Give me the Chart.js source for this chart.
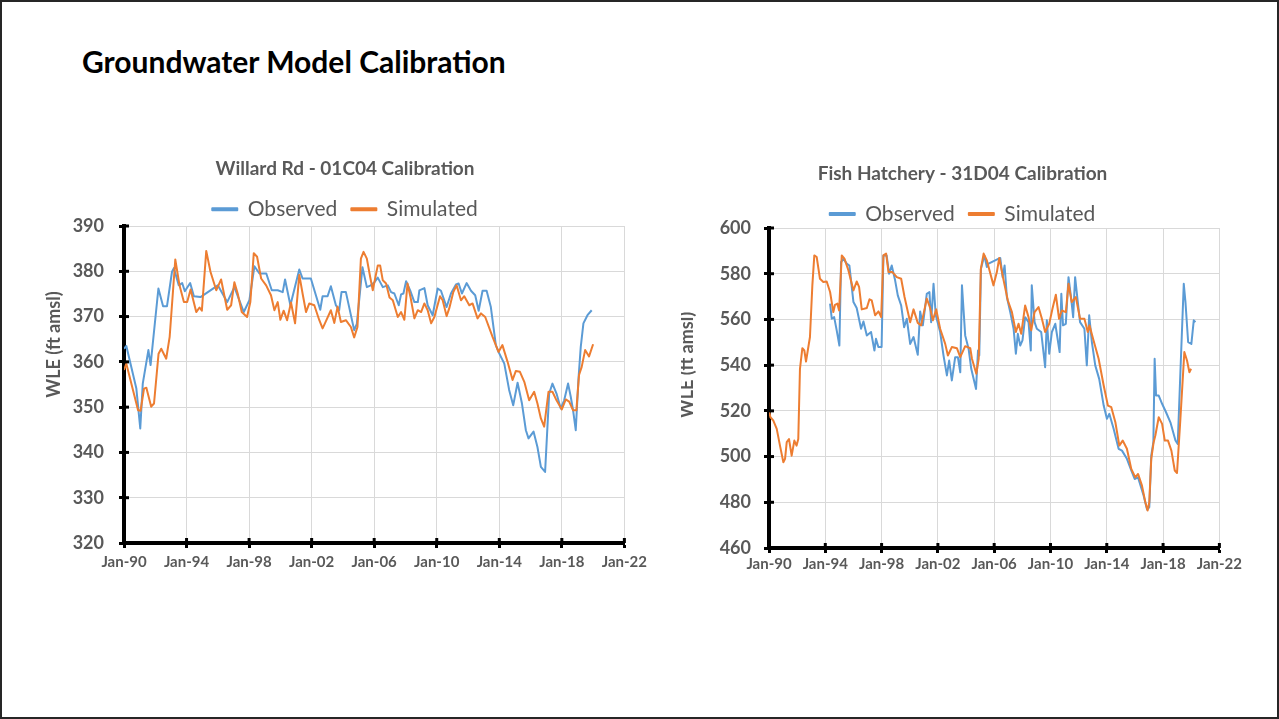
<!DOCTYPE html>
<html>
<head>
<meta charset="utf-8">
<script src="https://cdn.jsdelivr.net/npm/chart.js@4.4.1/dist/chart.umd.min.js"></script>
<style>
  html, body { margin: 0; padding: 0; background: #fff; }
  #slide { position: relative; width: 1279px; height: 719px; box-sizing: border-box; border: 2px solid #262626; overflow: hidden; }
  h1 { position: absolute; left: 80px; top: 41px; margin: 0; font: bold 30px Lato, sans-serif; color: #000; white-space: nowrap; }
  .box { position: absolute; }
</style>
</head>
<body>
<div id="slide">
  <h1>Groundwater Model Calibration</h1>
  <div class="box" style="left:36px; top:143px; width:614px; height:435px"><canvas id="chart-willard"></canvas></div>
  <div class="box" style="left:679px; top:143px; width:563px; height:435px"><canvas id="chart-fish"></canvas></div>
</div>
<script>
// Willard Rd - 01C04 (decimal year, WLE ft amsl)
const willardObsYear = [1990.00,1990.15,1990.79,1991.04,1991.20,1991.56,1991.70,1992.20,1992.50,1992.75,1993.07,1993.19,1993.50,1993.72,1993.89,1994.23,1994.47,1994.89,1996.00,1996.60,1997.06,1997.66,1998.02,1998.34,1998.66,1999.10,1999.45,1999.83,2000.15,2000.30,2000.64,2001.21,2001.42,2001.95,2002.55,2002.70,2003.02,2003.23,2003.55,2003.76,2003.91,2004.19,2004.72,2004.89,2005.25,2005.53,2005.78,2006.02,2006.23,2006.55,2006.87,2007.08,2007.29,2007.57,2007.72,2007.87,2008.04,2008.30,2008.57,2008.79,2008.89,2009.21,2009.42,2009.74,2010.06,2010.27,2010.63,2010.91,2011.23,2011.40,2011.61,2011.91,2012.19,2012.46,2012.68,2012.93,2013.19,2013.46,2013.78,2013.95,2014.32,2014.63,2014.89,2015.17,2015.45,2015.70,2015.87,2016.19,2016.44,2016.66,2016.93,2017.08,2017.19,2017.40,2017.66,2017.93,2018.15,2018.40,2018.57,2018.72,2018.89,2019.06,2019.21,2019.38,2019.64,2019.91];
const willardObsWle = [362.9,363.5,354.1,345.3,355.2,362.6,359.3,376.2,372.3,372.3,379.9,380.7,376.9,377.4,375.6,377.4,374.5,374.3,376.9,373.2,376.5,371.0,373.6,381.1,379.5,379.5,375.8,375.8,375.4,378.2,372.5,380.4,378.4,378.4,371.5,374.5,374.5,376.7,372.5,371.4,375.4,375.4,367.0,368.4,380.9,376.5,376.9,377.6,378.6,376.5,376.9,375.4,375.1,372.5,374.9,375.1,377.8,375.8,373.2,373.2,375.8,376.3,372.5,370.3,376.2,375.7,372.1,375.1,377.1,377.3,375.1,377.4,375.7,374.7,371.3,375.7,375.7,372.1,363.7,362.2,359.6,353.8,350.4,355.4,350.8,344.9,343.1,344.6,341.2,336.8,335.7,345.7,353.0,355.2,353.0,349.7,351.5,355.2,352.3,349.3,344.9,356.0,363.3,368.5,370.3,371.4];
const willardSimYear = [1990.00,1990.15,1990.90,1991.06,1991.28,1991.43,1991.74,1991.92,1992.21,1992.38,1992.70,1992.92,1993.28,1993.55,1993.83,1994.04,1994.26,1994.62,1994.83,1994.98,1995.26,1995.53,1995.90,1996.21,1996.60,1996.85,1997.06,1997.27,1997.53,1997.87,1998.08,1998.30,1998.51,1998.77,1999.09,1999.40,1999.62,1999.83,2000.00,2000.21,2000.43,2000.68,2000.94,2001.21,2001.42,2001.64,2001.85,2002.17,2002.49,2002.70,2002.85,2003.23,2003.45,2003.66,2003.87,2004.19,2004.51,2004.72,2004.93,2005.15,2005.32,2005.53,2005.74,2005.91,2006.23,2006.38,2006.55,2006.76,2006.98,2007.19,2007.51,2007.72,2007.93,2008.13,2008.34,2008.57,2008.79,2009.00,2009.21,2009.42,2009.64,2009.85,2010.21,2010.38,2010.63,2010.80,2011.06,2011.27,2011.55,2011.76,2012.08,2012.29,2012.61,2012.83,2013.10,2013.57,2013.95,2014.20,2014.53,2014.85,2015.06,2015.32,2015.60,2015.91,2016.23,2016.44,2016.66,2016.87,2017.15,2017.40,2017.66,2018.00,2018.25,2018.47,2018.72,2018.93,2019.10,2019.27,2019.49,2019.74,2020.00];
const willardSimWle = [358.2,359.6,349.3,349.2,354.1,354.3,350.1,350.8,361.8,362.9,360.7,365.5,382.6,376.9,373.2,373.2,376.0,371.0,372.0,371.3,384.5,379.9,375.8,378.2,371.5,372.5,377.6,375.1,371.0,369.9,373.2,384.0,383.2,378.4,376.9,374.7,371.4,373.2,369.3,371.3,369.2,373.1,368.5,379.2,375.1,371.0,372.9,372.5,369.2,367.4,368.5,371.4,368.6,372.2,368.8,369.2,367.7,365.4,367.7,382.8,384.3,382.8,378.8,375.8,381.3,381.3,378.0,377.3,374.2,373.6,369.9,371.0,369.3,377.3,374.0,369.6,371.4,371.0,372.9,371.4,368.5,369.9,374.5,373.6,370.1,371.8,375.4,376.9,373.6,374.5,372.5,372.9,369.6,370.7,369.9,365.5,362.2,363.7,360.0,356.0,358.0,357.8,355.6,351.5,353.4,350.8,347.5,345.7,353.4,353.4,351.5,349.5,351.7,351.2,349.3,349.3,357.1,358.9,362.6,361.2,363.9];

// Fish Hatchery - 31D04
const fishObsYear = [1994.34,1994.46,1994.63,1994.81,1995.00,1995.12,1995.29,1995.52,1995.71,1996.00,1996.23,1996.54,1996.71,1996.95,1997.25,1997.49,1997.60,1997.77,1998.00,1998.13,1998.36,1998.53,1998.72,1998.96,1999.15,1999.39,1999.60,1999.79,2000.03,2000.27,2000.57,2000.74,2000.93,2001.21,2001.40,2001.52,2001.69,2001.85,2002.16,2002.40,2002.64,2002.80,2002.99,2003.23,2003.42,2003.59,2003.71,2003.94,2004.18,2004.37,2004.71,2004.85,2004.94,2005.06,2005.30,2005.48,2005.60,2006.43,2006.60,2006.74,2006.90,2007.14,2007.38,2007.54,2007.68,2007.85,2008.01,2008.20,2008.44,2008.60,2008.67,2008.87,2009.03,2009.34,2009.62,2009.74,2009.91,2010.10,2010.34,2010.65,2010.77,2010.89,2011.09,2011.28,2011.47,2011.61,2011.75,2011.94,2012.10,2012.41,2012.58,2012.75,2012.94,2013.18,2013.46,2013.78,2014.01,2014.18,2014.49,2014.84,2015.08,2015.43,2015.74,2015.98,2016.22,2016.62,2016.86,2017.02,2017.16,2017.31,2017.40,2017.50,2017.69,2017.93,2018.21,2018.52,2018.88,2019.04,2019.23,2019.47,2019.59,2019.78,2020.01,2020.18,2020.30];
const fishObsWle = [566.9,560.3,561.0,555.2,548.6,585.1,586.6,584.4,583.6,567.6,565.0,555.9,559.1,553.0,554.5,546.4,551.5,547.9,547.9,588.0,588.0,580.0,583.6,577.1,570.5,566.1,556.6,560.3,549.3,552.3,544.5,563.5,557.4,571.2,572.0,558.8,575.6,561.8,554.5,544.2,535.5,542.0,533.3,543.5,543.5,536.9,574.9,553.0,547.2,538.4,529.6,546.4,544.2,582.2,588.0,582.9,584.4,586.9,578.5,583.6,569.8,563.2,555.9,545.0,553.7,548.6,550.8,561.0,558.8,546.4,574.9,558.8,555.9,554.5,539.1,559.6,545.0,554.5,558.1,545.7,571.2,557.4,558.1,578.5,569.1,561.0,578.5,567.6,558.8,555.9,539.9,561.8,550.1,539.9,534.0,522.3,516.5,518.7,512.1,503.4,502.6,499.0,493.9,490.2,490.9,482.9,476.8,477.8,500.4,506.3,542.8,526.7,526.7,523.1,519.4,515.0,507.0,505.5,536.9,575.6,567.6,550.1,549.3,559.6,558.8];
const fishSimYear = [1990.00,1990.10,1990.30,1990.55,1990.78,1991.02,1991.14,1991.26,1991.42,1991.61,1991.80,1991.96,1992.08,1992.20,1992.37,1992.51,1992.63,1992.91,1993.08,1993.22,1993.39,1993.62,1993.86,1994.10,1994.34,1994.57,1994.69,1994.86,1994.98,1995.17,1995.36,1995.64,1996.00,1996.23,1996.40,1996.59,1996.95,1997.14,1997.30,1997.54,1997.78,1997.97,1998.13,1998.32,1998.49,1998.77,1999.08,1999.39,1999.63,2000.03,2000.27,2000.57,2000.81,2001.21,2001.45,2001.64,2001.88,2002.16,2002.52,2002.71,2002.99,2003.35,2003.59,2003.94,2004.30,2004.42,2004.73,2004.90,2005.05,2005.25,2005.48,2005.95,2006.19,2006.36,2006.67,2006.97,2007.26,2007.54,2007.73,2007.92,2008.20,2008.44,2008.63,2008.87,2009.15,2009.39,2009.62,2009.91,2010.14,2010.38,2010.61,2010.80,2011.09,2011.28,2011.51,2011.80,2012.10,2012.41,2012.65,2012.77,2013.06,2013.42,2013.78,2014.08,2014.32,2014.61,2014.89,2015.13,2015.43,2015.74,2016.03,2016.22,2016.50,2016.74,2016.90,2017.02,2017.16,2017.33,2017.45,2017.69,2017.93,2018.12,2018.35,2018.59,2018.83,2018.99,2019.23,2019.51,2019.70,2019.87,2019.99];
const fishSimWle = [520.1,517.2,515.8,512.1,504.8,497.5,499.0,506.3,507.7,500.4,507.0,504.8,507.7,538.4,547.4,546.4,541.6,552.3,574.9,588.0,587.3,577.8,576.4,576.6,572.0,563.2,566.4,566.9,563.9,588.0,586.6,581.5,572.7,576.6,574.2,564.4,565.0,568.8,568.3,561.8,563.5,561.0,588.0,588.8,580.7,580.7,578.5,577.8,569.8,558.8,564.4,558.5,557.4,569.1,565.0,559.6,564.4,555.9,549.3,544.2,547.9,547.4,543.5,548.3,547.4,542.8,536.2,542.8,582.0,588.8,585.8,574.9,580.7,586.9,577.1,568.3,563.2,554.5,558.1,553.7,566.1,561.0,555.2,563.2,565.4,560.3,554.5,558.1,564.7,570.8,560.3,563.9,563.2,575.6,567.6,569.8,560.3,560.3,554.5,557.4,550.8,542.8,531.1,522.3,521.6,515.0,504.8,507.0,503.4,494.6,490.9,492.4,487.3,480.0,476.4,480.0,499.0,506.3,509.2,517.2,514.3,507.0,507.0,502.6,493.9,492.8,516.5,545.7,542.0,536.9,538.4];

const obsColor = '#5b9bd5';
const simColor = '#ed7d31';
const textGray = '#595959';

Chart.defaults.font.family = "Lato, sans-serif";
Chart.defaults.color = textGray;

function toPoints(xs, ys) {
    return xs.map((x, i) => ({ x: x, y: ys[i] }));
}

// tick marks that cross the axis line, plus the y axis title
const axisExtras = {
    id: 'axisExtras',
    afterDraw(chart, args, opts) {
        const { ctx, chartArea: a, scales } = chart;
        ctx.save();
        ctx.strokeStyle = '#000';
        ctx.lineWidth = 3;
        scales.x.ticks.forEach(t => {
            const px = scales.x.getPixelForValue(t.value);
            ctx.beginPath(); ctx.moveTo(px, a.bottom); ctx.lineTo(px, a.bottom - 5); ctx.stroke();
        });
        scales.y.ticks.forEach(t => {
            const py = scales.y.getPixelForValue(t.value);
            ctx.beginPath(); ctx.moveTo(a.left, py); ctx.lineTo(a.left + 5, py); ctx.stroke();
        });
        ctx.translate(a.left + opts.dx, (a.top + a.bottom) / 2 + opts.dy);
        ctx.rotate(-Math.PI / 2);
        ctx.fillStyle = textGray;
        ctx.font = 'bold 18px Lato, sans-serif';
        ctx.textAlign = 'center';
        ctx.textBaseline = 'middle';
        ctx.fillText(opts.text, 0, 0);
        ctx.restore();
    }
};

function createChart(id, cfg) {
    const ctx = document.getElementById(id).getContext('2d');
    return new Chart(ctx, {
        type: 'line',
        data: {
            datasets: [
                { label: 'Observed', data: toPoints(cfg.obsYear, cfg.obsWle), borderColor: obsColor, backgroundColor: obsColor, borderWidth: 2, pointRadius: 0, tension: 0, borderJoinStyle: 'round', order: 1 },
                { label: 'Simulated', data: toPoints(cfg.simYear, cfg.simWle), borderColor: simColor, backgroundColor: simColor, borderWidth: 2, pointRadius: 0, tension: 0, borderJoinStyle: 'round', order: 0 }
            ]
        },
        plugins: [axisExtras],
        options: {
            responsive: true, maintainAspectRatio: false, animation: false,
            layout: { padding: 0 },
            plugins: {
                title: { display: true, text: cfg.title, color: textGray, font: { size: 19, weight: 'bold' }, padding: { top: cfg.titleTop, bottom: cfg.titleBottom } },
                legend: {
                    position: 'top', maxHeight: cfg.legendHeight,
                    labels: { boxWidth: 25, boxHeight: 2, color: textGray, font: { size: 21 }, padding: 14,
                        sort: (a, b) => a.datasetIndex - b.datasetIndex }
                },
                tooltip: { enabled: false },
                axisExtras: { text: 'WLE (ft amsl)', dx: cfg.yTitleDx, dy: cfg.yTitleDy }
            },
            scales: {
                x: {
                    type: 'linear', min: 1990, max: 2022,
                    ticks: { stepSize: 4, autoSkip: false, maxRotation: 0, padding: cfg.xPad, color: textGray, font: { size: 15, weight: 'bold' },
                        callback: v => 'Jan-' + String(v % 100).padStart(2, '0') },
                    grid: { color: '#d9d9d9', lineWidth: 1, tickColor: '#000', tickWidth: 3, tickLength: 5 },
                    border: { color: '#000', width: 4 },
                    afterFit: s => { s.height = cfg.xHeight; }
                },
                y: {
                    min: cfg.yMin, max: cfg.yMax,
                    ticks: { stepSize: cfg.yStep, padding: cfg.yPad, color: textGray, font: { size: 18, weight: 'bold' } },
                    grid: { color: '#d9d9d9', lineWidth: 1, tickColor: '#000', tickWidth: 3, tickLength: 5 },
                    border: { color: '#000', width: 4 },
                    afterFit: s => { s.width = cfg.yWidth; }
                }
            }
        }
    });
}

createChart('chart-willard', {
    title: 'Willard Rd - 01C04 Calibration',
    obsYear: willardObsYear, obsWle: willardObsWle, simYear: willardSimYear, simWle: willardSimWle,
    yMin: 320, yMax: 390, yStep: 10,
    titleTop: 12, titleBottom: 5, legendHeight: 41.2,
    xHeight: 37, xPad: 5, yWidth: 86, yPad: 15,
    yTitleDx: -70, yTitleDy: -40
});

createChart('chart-fish', {
    title: 'Fish Hatchery - 31D04 Calibration',
    obsYear: fishObsYear, obsWle: fishObsWle, simYear: fishSimYear, simWle: fishSimWle,
    yMin: 460, yMax: 600, yStep: 20,
    titleTop: 17.5, titleBottom: 4.2, legendHeight: 38.5,
    xHeight: 32, xPad: 2, yWidth: 88, yPad: 13,
    yTitleDx: -82, yTitleDy: -23
});
</script>
</body>
</html>
